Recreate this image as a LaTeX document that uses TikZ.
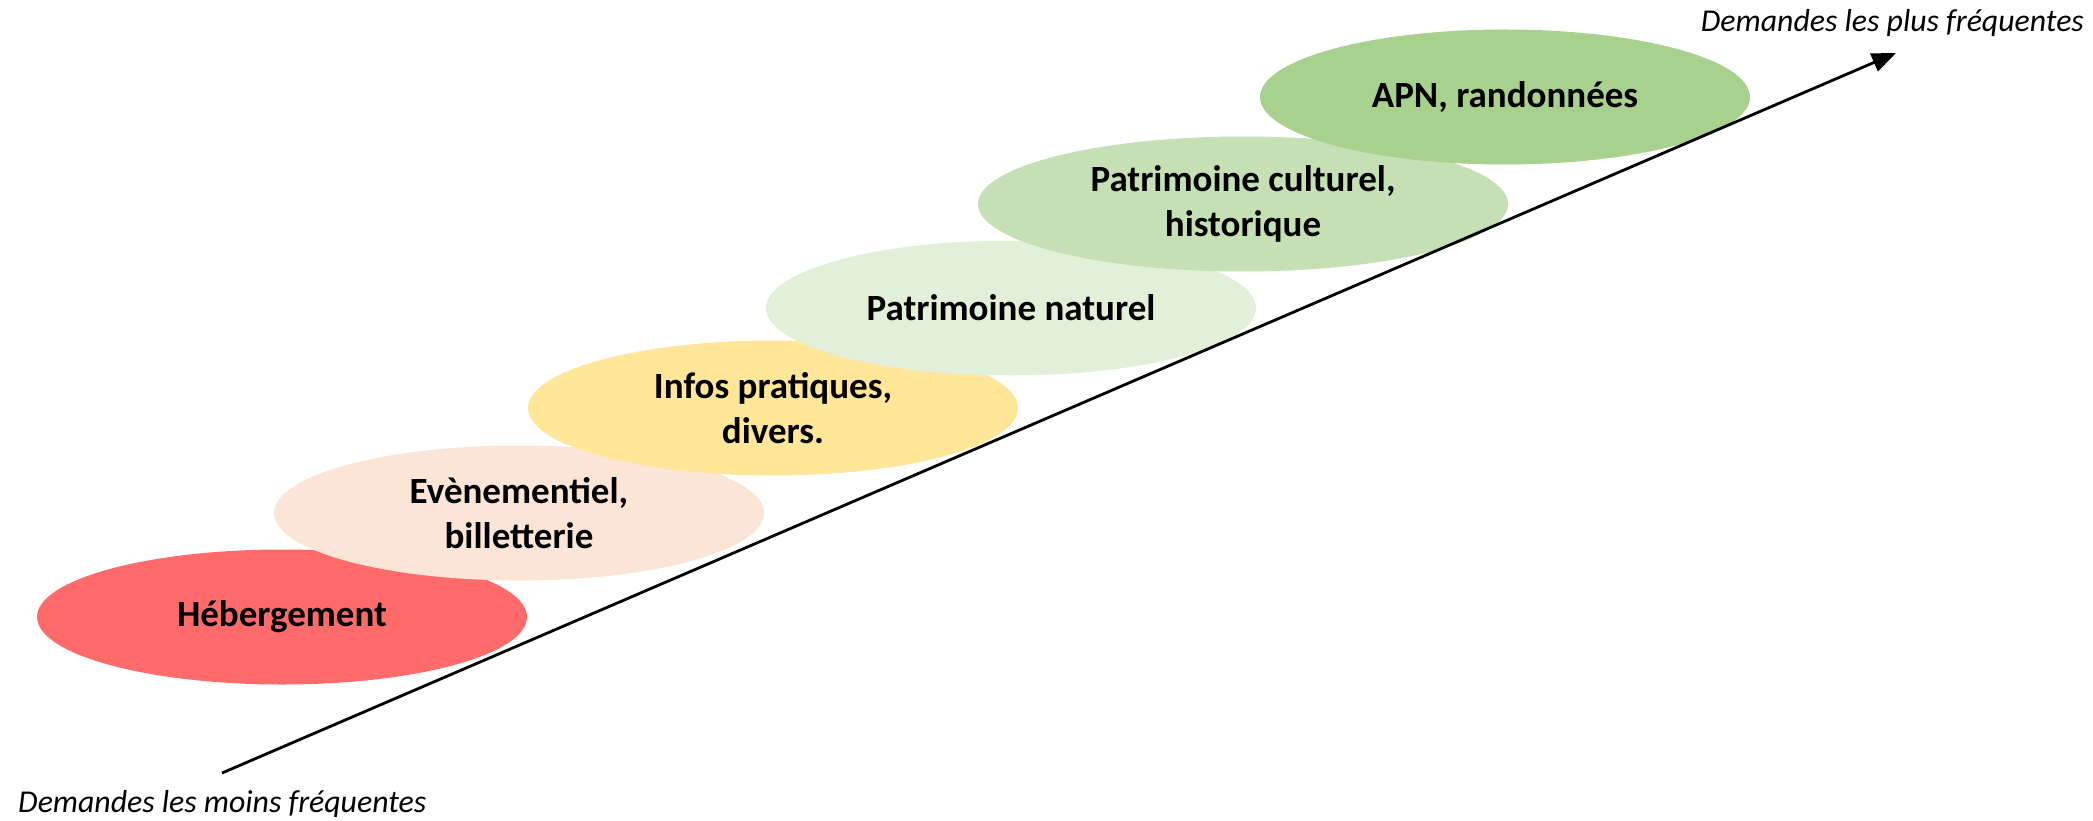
\documentclass[tikz,border=0pt]{standalone}
\usepackage{fontspec}
\setmainfont{Carlito}
\usetikzlibrary{shapes.geometric,arrows.meta}
\definecolor{cRed}{HTML}{FF6B6B}
\definecolor{cPeach}{HTML}{FBE5D6}
\definecolor{cYellow}{HTML}{FFE699}
\definecolor{cPale}{HTML}{E2F0D9}
\definecolor{cLight}{HTML}{C5E0B4}
\definecolor{cGreen}{HTML}{A9D18E}
\tikzset{
  blob/.style={ellipse, inner sep=0pt, minimum width=490pt, minimum height=135pt,
    align=center, font=\fontsize{37}{45}\selectfont\bfseries},
  axislabel/.style={inner sep=0pt, font=\fontsize{31.8}{38}\selectfont\itshape},
  axisline/.style={line width=2.8pt, -{Triangle[length=24pt,width=19pt]}}
}
\begin{document}
\begin{tikzpicture}[x=1pt,y=-1pt]
\useasboundingbox (0,0) rectangle (2093,821);
\node[blob, fill=cRed] (heb) at (282,617) {Hébergement};
\node[blob, fill=cPeach] (eve) at (519,513) {Evènementiel,\\billetterie};
\node[blob, fill=cYellow] (inf) at (773,408) {Infos pratiques,\\divers.};
\node[blob, fill=cPale] (nat) at (1011,308) {Patrimoine naturel};
\node[blob, fill=cLight, minimum width=530pt] (cul) at (1243,204) {Patrimoine culturel,\\historique};
\node[blob, fill=cGreen] (apn) at (1505,97) {APN, randonnées};
\coordinate (lo) at (222,773);
\coordinate (hi) at (1896,53);
\draw[axisline] (lo) -- (hi);
\node[axislabel, anchor=base east] (top) at (2084,32) {Demandes les plus fréquentes};
\node[axislabel, anchor=base west] (bot) at (18,812) {Demandes les moins fréquentes};
\end{tikzpicture}
\end{document}
